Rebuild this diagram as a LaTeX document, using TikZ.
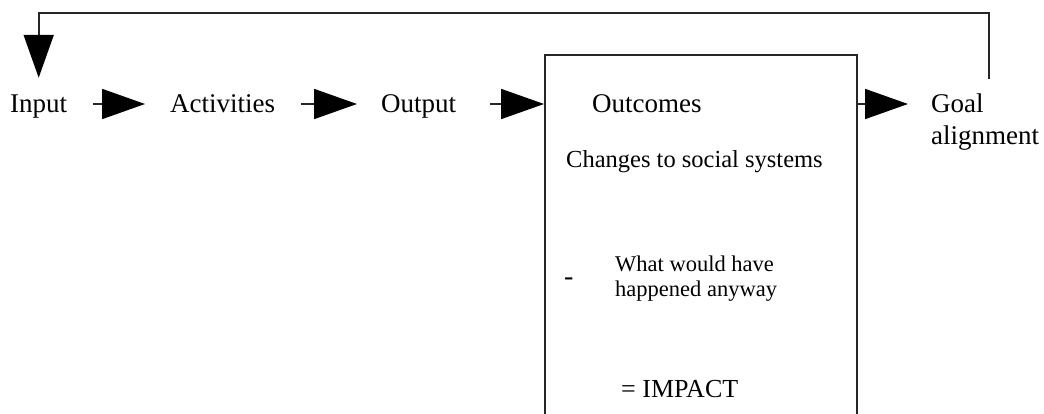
\documentclass[tikz,border=0pt]{standalone}
\usepackage{fontspec}
\setmainfont{Liberation Serif}
\usetikzlibrary{arrows.meta}
\begin{document}
\begin{tikzpicture}[x=1pt,y=-1pt,
  lbl/.style={inner sep=0pt,anchor=base west,font=\fontsize{27}{32}\selectfont,text height=20pt,text depth=2pt},
  mid/.style={inner sep=0pt,anchor=base west,font=\fontsize{24.5}{29}\selectfont},
  small/.style={inner sep=0pt,anchor=base west,align=left,font=\fontsize{22.5}{24.5}\selectfont},
  conn/.style={draw=black!85,line width=1.8pt,-{Triangle[length=43pt,width=30pt,color=black]}},
  boxline/.style={draw=black!85,line width=1.8pt}]
\useasboundingbox (0,0) rectangle (1044,414);
\node[boxline,rectangle,inner sep=0pt,minimum width=312pt,minimum height=376pt,anchor=north west] (box) at (544,54) {};
\node[lbl] (input) at (10,113) {Input};
\node[lbl] (act) at (170,113) {Activities};
\node[lbl] (output) at (381,113) {Output};
\node[lbl] (outc) at (592,113) {Outcomes};
\node[inner sep=0pt,anchor=base west,align=left,font=\fontsize{27}{32}\selectfont] (goal) at (931,145) {Goal\\alignment};
\node[mid] (changes) at (566,168) {Changes to social systems};
\node[inner sep=0pt,anchor=base west,font=\fontsize{28}{30}\selectfont] (minus) at (564,285) {-};
\node[small] (anyway) at (615,296) {What would have\\happened anyway};
\node[mid,font=\fontsize{26}{30}\selectfont] (impact) at (621,397) {= IMPACT};
\coordinate (top) at (0,13);
\draw[conn] ([xshift=26pt]input.east) -- ([xshift=-25pt]act.west);
\draw[conn] ([xshift=26pt]act.east) -- ([xshift=-24pt]output.east -| output.west);
\draw[conn] ([xshift=34pt]output.east) -- (output.east -| box.west);
\draw[conn] (output.east -| box.east) -- ([xshift=-23pt]output.east -| goal.west);
\draw[conn] ([yshift=15pt]goal.north -| 989,0) -- (989,13) -| ([yshift=15pt]input.north);
\end{tikzpicture}
\end{document}
